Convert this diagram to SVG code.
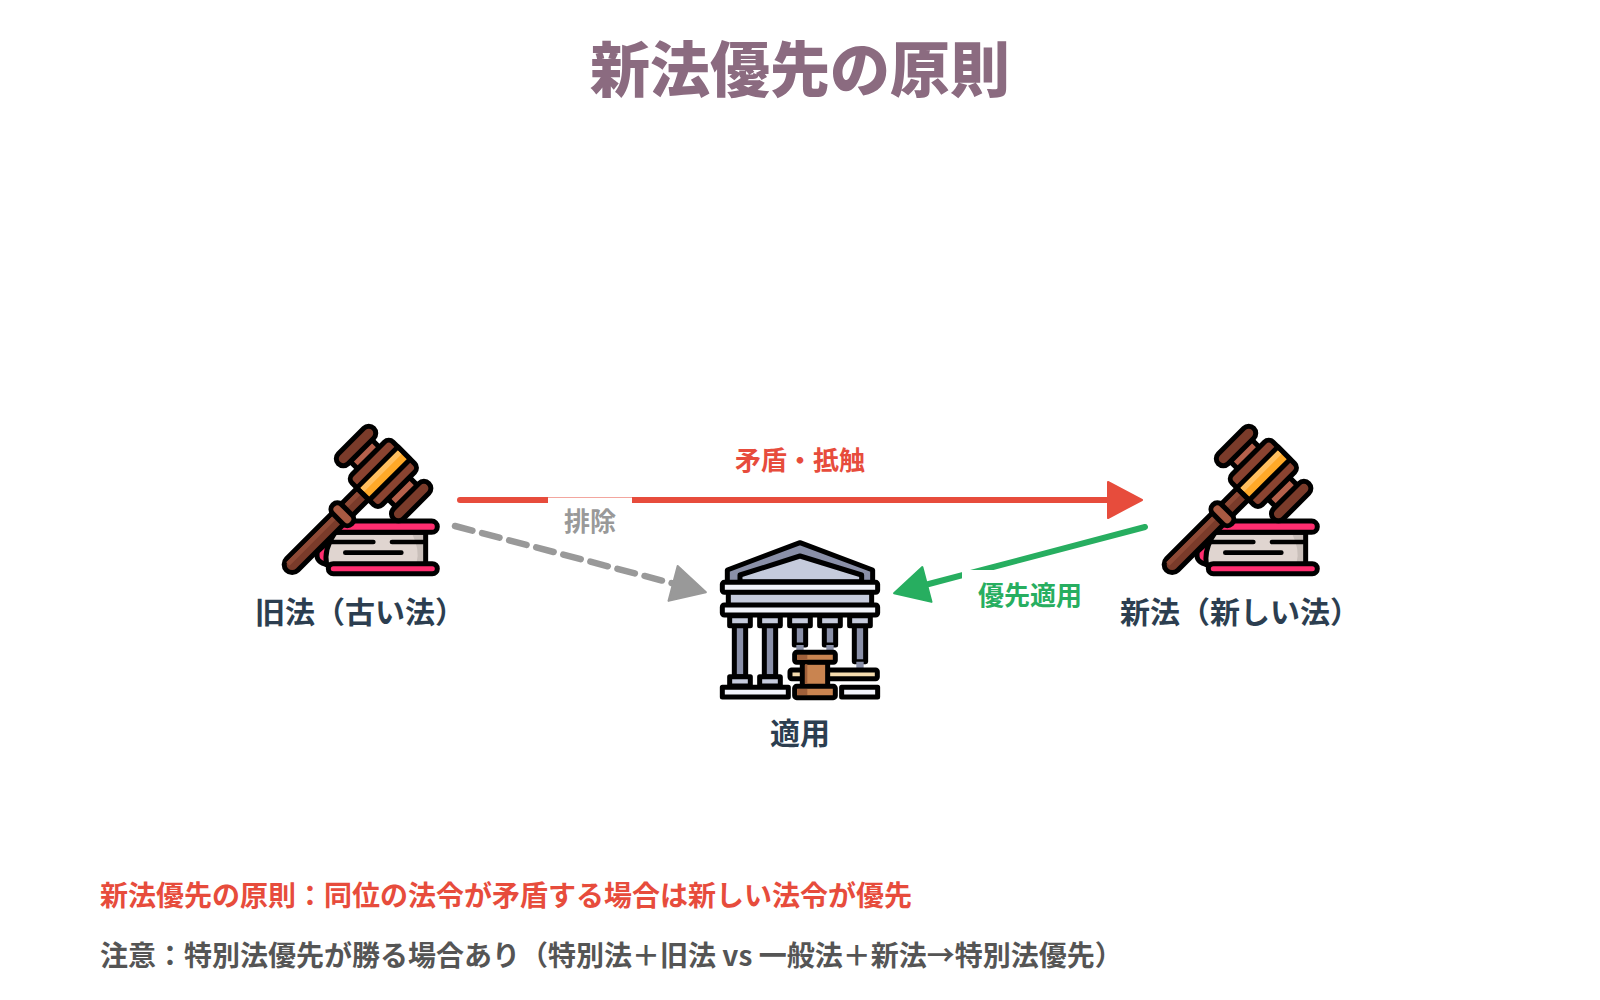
<svg xmlns="http://www.w3.org/2000/svg" xmlns:xlink="http://www.w3.org/1999/xlink" width="1600" height="1000" viewBox="0 0 1600 1000">
<style>
text{font-family:"Noto Sans CJK JP","Noto Sans",sans-serif;font-weight:700}
.m{text-anchor:middle}
.nl{font-size:30px;fill:#2c3e50}
.cl{font-size:26px}
.k{stroke:#000;stroke-width:15;stroke-linejoin:round;stroke-linecap:round}
.ln{fill:none;stroke:#000;stroke-width:14;stroke-linecap:round}
</style>
<defs>
<marker id="ar" markerUnits="userSpaceOnUse" markerWidth="44" markerHeight="44" refX="4" refY="22" orient="auto" viewBox="0 0 44 44"><path d="M2 4 L36 22 L2 40Z" fill="#e74c3c" stroke="#e74c3c" stroke-width="2" stroke-linejoin="round"/></marker>
<marker id="ag" markerUnits="userSpaceOnUse" markerWidth="44" markerHeight="44" refX="4" refY="22" orient="auto" viewBox="0 0 44 44"><path d="M2 4 L36 22 L2 40Z" fill="#27ae60" stroke="#27ae60" stroke-width="2" stroke-linejoin="round"/></marker>
<marker id="ay" markerUnits="userSpaceOnUse" markerWidth="44" markerHeight="44" refX="4" refY="22" orient="auto" viewBox="0 0 44 44"><path d="M2 4 L36 22 L2 40Z" fill="#999" stroke="#999" stroke-width="2" stroke-linejoin="round"/></marker>
<g id="gavel">
<path class="k" d="M205 464Q165 460 172 425L205 395Z" fill="#ff2d6f"/>
<path class="k" d="M225 367L497 367V465H200Q190 420 225 367Z" fill="#e0d5d0"/>
<path d="M458 375H489V457H470Q480 420 458 375Z" fill="#c9bfba"/>
<rect class="k" x="212" y="333" width="320" height="34" rx="17" fill="#ff2d6f"/>
<rect class="k" x="205" y="461" width="327" height="30" rx="15" fill="#ff2d6f"/>
<path class="ln" d="M208 396H340M396 396H490M256 428H424"/>
<g transform="translate(368 192) rotate(-45)">
<rect class="k" x="-408" y="-24" width="345" height="48" rx="24" fill="#7a3b2a"/>
<path d="M-392-10H-80" stroke="#8f4a36" stroke-width="14"/>
<rect class="k" x="-190" y="-40" width="38" height="80" rx="18" fill="#a85a42"/>
<rect class="k" x="-42" y="-105" width="92" height="210" fill="#b5604b"/>
<rect class="k" x="-72" y="-137" width="150" height="42" rx="21" fill="#7a3b2a"/>
<rect class="k" x="-72" y="97" width="150" height="42" rx="21" fill="#7a3b2a"/>
<rect class="k" x="-84" y="-64" width="174" height="128" rx="18" fill="#8a4330"/>
<rect class="k" x="-84" y="-25" width="174" height="52" fill="#ffa928"/>
<rect x="-76" y="-18" width="158" height="16" fill="#ffc060"/>
</g>
</g>
</defs>
<rect width="1600" height="1000" fill="#fff"/>
<text id="title" class="m" x="800" y="92" font-size="60" fill="#8b6b80" style="font-weight:900">新法優先の原則</text>
<g id="connectors" stroke-linecap="round" fill="none">
<line x1="460" y1="500" x2="1110" y2="500" stroke="#e74c3c" stroke-width="6" marker-end="url(#ar)"/>
<line x1="1145" y1="527" x2="925" y2="585" stroke="#27ae60" stroke-width="6" marker-end="url(#ag)"/>
<rect x="548" y="497.5" width="84" height="42" fill="#fff" stroke="none"/>
<rect x="962" y="570" width="138" height="42" fill="#fff" stroke="none"/>
<line x1="455" y1="526" x2="675" y2="584" stroke="#999" stroke-width="6.5" stroke-dasharray="18 10" marker-end="url(#ay)"/>
<text class="m cl" x="800" y="470" fill="#e74c3c">矛盾・抵触</text>
<text class="m cl" x="590" y="531" fill="#999">排除</text>
<text class="m cl" x="1030" y="605" fill="#27ae60">優先適用</text>
</g>
<g id="old-law">
<use xlink:href="#gavel" transform="translate(260 410) scale(.3333)"/>
<text class="m nl" x="360" y="623">旧法（古い法）</text>
</g>
<g id="new-law">
<use xlink:href="#gavel" transform="translate(1140 410) scale(.3333)"/>
<text class="m nl" x="1240" y="623">新法（新しい法）</text>
</g>
<g id="apply">
<g transform="translate(690 520) scale(.3333)">
<path class="k" d="M112 190V150L330 68L548 150V190Z" fill="#8a90a8"/>
<path class="k" d="M150 185V165L330 108L515 165V185Z" fill="#c5cbdc"/>
<rect class="k" x="115" y="215" width="430" height="45" fill="#c5cbdc"/>
<rect class="k" x="97" y="187" width="466" height="30" rx="6" fill="#f2f4fb"/>
<rect class="k" x="97" y="255" width="466" height="30" rx="6" fill="#f2f4fb"/>
<g fill="#8a90a8" class="k">
<rect x="133" y="315" width="34" height="155"/><rect x="223" y="315" width="34" height="155"/>
<path d="M313 315V375H347V315Z"/><path d="M403 315V375H437V315Z"/><path d="M493 315V425H527V315Z"/>
</g>
<path d="M319 375H341V392H319ZM409 375H431V392H409ZM499 425H521V445H499Z" fill="#8a90a8"/>
<g fill="#c5cbdc" class="k">
<rect x="119" y="287" width="62" height="30"/><rect x="209" y="287" width="62" height="30"/><rect x="299" y="287" width="62" height="30"/><rect x="389" y="287" width="62" height="30"/><rect x="479" y="287" width="62" height="30"/>
<rect x="119" y="470" width="62" height="28"/><rect x="209" y="470" width="62" height="28"/>
</g>
<path class="k" d="M97 502H295V531H97ZM455 502H563V531H455Z" fill="#f2f4fb"/>
<rect class="k" x="300" y="450" width="262" height="26" rx="5" fill="#f5dcae"/>
<rect class="k" x="337" y="425" width="76" height="75" fill="#c98450"/>
<rect class="k" x="314" y="397" width="122" height="30" rx="6" fill="#c98450"/>
<rect class="k" x="314" y="499" width="122" height="34" rx="6" fill="#c98450"/>
<path d="M322 405H352V419H322ZM345 433H352V492H345ZM322 507H352V525H322Z" fill="#a0603a"/>
</g>
<text class="m nl" x="800" y="744">適用</text>
</g>
<text id="note1" x="100" y="906" font-size="28" fill="#e74c3c">新法優先の原則：同位の法令が矛盾する場合は新しい法令が優先</text>
<text id="note2" x="100" y="966" font-size="28" fill="#555">注意：特別法優先が勝る場合あり（特別法＋旧法 vs 一般法＋新法→特別法優先）</text>
</svg>
